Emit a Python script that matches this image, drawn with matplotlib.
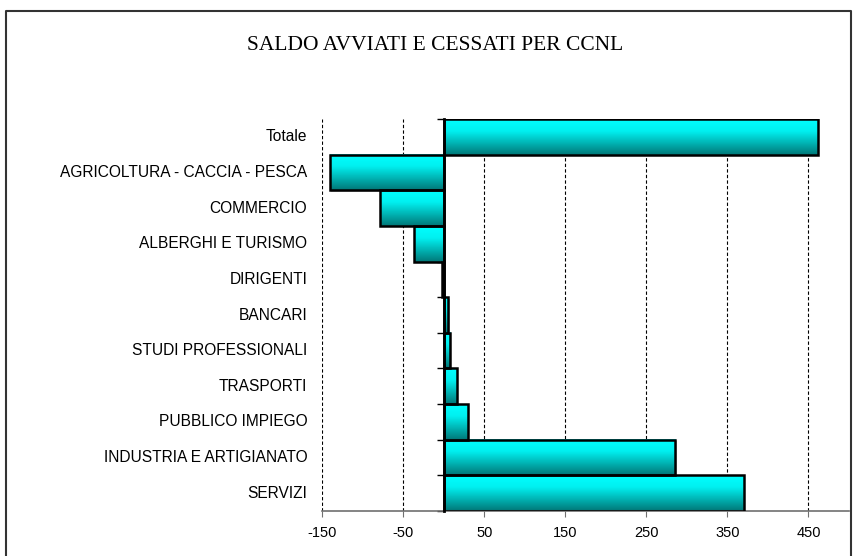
import numpy as np
import matplotlib
matplotlib.use('Agg')
import matplotlib.pyplot as plt
from matplotlib.colors import LinearSegmentedColormap
from matplotlib.patches import Rectangle

# categories top to bottom
categorie = ['Totale', 'AGRICOLTURA - CACCIA - PESCA', 'COMMERCIO', 'ALBERGHI E TURISMO',
             'DIRIGENTI', 'BANCARI', 'STUDI PROFESSIONALI', 'TRASPORTI',
             'PUBBLICO IMPIEGO', 'INDUSTRIA E ARTIGIANATO', 'SERVIZI']
saldo = [462, -140, -78, -36, -2, 6, 8, 16, 30, 286, 370]
xticks = [-150, -50, 50, 150, 250, 350, 450]

fig = plt.figure(figsize=(8.55, 5.56), dpi=100)
ax = fig.add_axes([322/855, 1-511/556, (849-322)/855, (511-119)/556])

grad = LinearSegmentedColormap.from_list('g', ['#007878', '#00b4b4', '#00f0f0', '#00ffff'])
img = np.linspace(0, 1, 64).reshape(-1, 1)

n = len(categorie)
ypos = np.arange(n)[::-1]
for y, v in zip(ypos, saldo):
    x0, x1 = min(0, v), max(0, v)
    # shadow
    ax.add_patch(Rectangle((x0 + 1.5, y - 0.5 - 0.04), x1 - x0, 1, facecolor='#c8c8c8',
                           edgecolor='none', zorder=1.5))
    ax.imshow(img, cmap=grad, aspect='auto', extent=(x0, x1, y - 0.5, y + 0.5),
              origin='lower', zorder=2, interpolation='bilinear')
    ax.add_patch(Rectangle((x0, y - 0.5), x1 - x0, 1, facecolor='none',
                           edgecolor='black', linewidth=1.8, zorder=3))

ax.set_xlim(-150, 500)
ax.set_ylim(-0.5, n - 0.5)
ax.set_xticks(xticks)
ax.set_xticklabels([str(t) for t in xticks], fontsize=10.5, fontfamily='Liberation Sans')
ax.grid(axis='x', linestyle=(0, (3, 2)), color='black', linewidth=0.8)
ax.set_axisbelow(True)

for s in ['top', 'right']:
    ax.spines[s].set_visible(False)
ax.spines['bottom'].set_color('#707070')
ax.spines['bottom'].set_linewidth(1.2)
ax.spines['left'].set_position(('data', 0))
ax.spines['left'].set_linewidth(2)
ax.spines['left'].set_zorder(4)
ax.tick_params(axis='x', length=4, color='#707070', pad=7)
ax.set_yticks(ypos)
ax.set_yticklabels([])
ax.tick_params(axis='y', which='major', length=0)
ax.set_yticks(np.arange(n + 1) - 0.5, minor=True)
ax.tick_params(axis='y', which='minor', length=5, width=1, color='black')

for y, c in zip(ypos, categorie):
    ax.text(-0.028, y, c, transform=ax.get_yaxis_transform(), ha='right', va='center',
            fontsize=11.2, fontfamily='Liberation Sans')

fig.text(435/855, 1-46/556, 'SALDO AVVIATI E CESSATI PER CCNL', ha='center', va='center',
         fontsize=15.5, fontfamily='Liberation Serif')

# outer border
fig.add_artist(plt.Line2D([6/855, 6/855, 851/855, 851/855], [0, 1-11/556, 1-11/556, 0],
                          transform=fig.transFigure, color='#333333', linewidth=1.5))

fig.savefig('out.png', dpi=100)
